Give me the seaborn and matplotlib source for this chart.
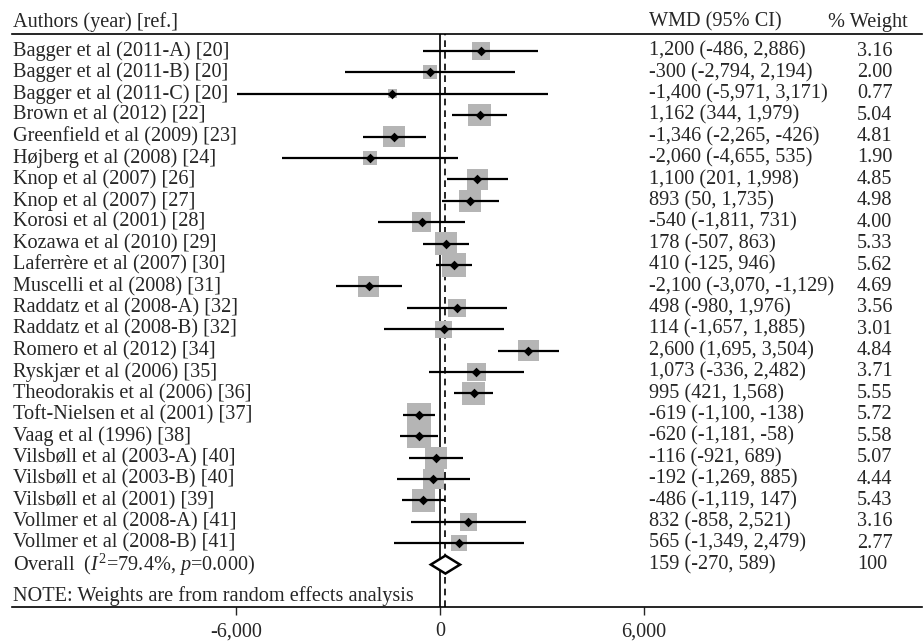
import seaborn as sns
import matplotlib.pyplot as plt
import matplotlib.transforms as mtransforms
import pandas as pd

# study rows, top to bottom
studies = ["Bagger et al (2011-A) [20]", "Bagger et al (2011-B) [20]", "Bagger et al (2011-C) [20]",
           "Brown et al (2012) [22]", "Greenfield et al (2009) [23]", "Højberg et al (2008) [24]",
           "Knop et al (2007) [26]", "Knop et al (2007) [27]", "Korosi et al (2001) [28]",
           "Kozawa et al (2010) [29]", "Laferrère et al (2007) [30]", "Muscelli et al (2008) [31]",
           "Raddatz et al (2008-A) [32]", "Raddatz et al (2008-B) [32]", "Romero et al (2012) [34]",
           "Ryskjær et al (2006) [35]", "Theodorakis et al (2006) [36]", "Toft-Nielsen et al (2001) [37]",
           "Vaag et al (1996) [38]", "Vilsbøll et al (2003-A) [40]", "Vilsbøll et al (2003-B) [40]",
           "Vilsbøll et al (2001) [39]", "Vollmer et al (2008-A) [41]", "Vollmer et al (2008-B) [41]"]
wmd = [1200, -300, -1400, 1162, -1346, -2060, 1100, 893, -540, 178, 410, -2100,
       498, 114, 2600, 1073, 995, -619, -620, -116, -192, -486, 832, 565]
lo = [-486, -2794, -5971, 344, -2265, -4655, 201, 50, -1811, -507, -125, -3070,
      -980, -1657, 1695, -336, 421, -1100, -1181, -921, -1269, -1119, -858, -1349]
hi = [2886, 2194, 3171, 1979, -426, 535, 1998, 1735, 731, 863, 946, -1129,
      1976, 1885, 3504, 2482, 1568, -138, -58, 689, 885, 147, 2521, 2479]
weight = [3.16, 2.00, 0.77, 5.04, 4.81, 1.90, 4.85, 4.98, 4.00, 5.33, 5.62, 4.69,
          3.56, 3.01, 4.84, 3.71, 5.55, 5.72, 5.58, 5.07, 4.44, 5.43, 3.16, 2.77]
overall = (159, -270, 589)
overall_label = r"Overall  ($\it{I}^{2}$=79.4%, $\it{p}$=0.000)"
xticks = [-6000, 0, 6000]
xticklabels = ["-6,000", "0", "6,000"]

df = pd.DataFrame({"study": studies, "wmd": wmd, "lo": lo, "hi": hi, "weight": weight})
df["row"] = range(len(df))
n = len(df)

sns.set_style("white")
plt.rcParams["font.family"] = ["Liberation Serif", "DejaVu Serif"]
plt.rcParams["mathtext.fontset"] = "custom"
plt.rcParams["mathtext.rm"] = "Liberation Serif"
plt.rcParams["mathtext.it"] = "Liberation Serif:italic"
fs = 14.6

W, H = 923, 641
fig = plt.figure(figsize=(W / 100, H / 100), dpi=100)
ax = fig.add_axes([12 / W, (H - 607) / H, 910 / W, (607 - 34) / H])

# pixel layout: 0 at x=440, 204 px per 6000; rows at 51 + 21.4*i
ppu = 204 / 6000
ax.set_xlim((12 - 440) / ppu, (922 - 440) / ppu)
ax.set_ylim((607 - 51) / 21.4, (34 - 51) / 21.4)

sns.scatterplot(data=df, x="wmd", y="row", size="weight", sizes=(50 * 0.77, 50 * 5.72),
                size_norm=(0.77, 5.72), marker="s", color="#b5b5b5", linewidth=0,
                legend=False, ax=ax, zorder=1)
ax.hlines(df["row"], df["lo"], df["hi"], color="black", lw=1.6, zorder=2)
sns.scatterplot(data=df, x="wmd", y="row", marker="D", s=24, color="black",
                linewidth=0, legend=False, ax=ax, zorder=3)

# overall diamond
ov, olo, ohi = overall
half = 0.42
ax.fill([olo, ov, ohi, ov], [n, n - half, n, n + half], facecolor="white",
        edgecolor="black", lw=1.8, zorder=3)

ax.axvline(0, color="black", lw=1.2, zorder=0)
ax.axvline(ov, color="black", lw=1.2, ls=(0, (4, 3)), zorder=0)

for s in ["left", "right"]:
    ax.spines[s].set_visible(False)
for s in ["top", "bottom"]:
    ax.spines[s].set_color("black")
    ax.spines[s].set_linewidth(1.2)
ax.set_yticks([])
ax.set_xticks(xticks)
ax.set_xticklabels(xticklabels, fontsize=fs)
ax.tick_params(axis="x", direction="out", length=6, width=1, pad=5, bottom=True)
ax.set_xlabel("")
ax.set_ylabel("")

tr = mtransforms.blended_transform_factory(fig.transFigure, ax.transData)
for i, r in df.iterrows():
    ax.text(13 / W, r["row"], r["study"], transform=tr, fontsize=fs, va="center", ha="left")
    ax.text(649 / W, r["row"], f"{r['wmd']:,} ({r['lo']:,}, {r['hi']:,})", transform=tr,
            fontsize=fs, va="center", ha="left")
    ax.text(857 / W, r["row"], f"{r['weight']:.2f}", transform=tr, fontsize=fs,
            va="center", ha="left")

ax.text(13 / W, n, overall_label, transform=tr, fontsize=fs, va="center", ha="left")
ax.text(649 / W, n, f"{ov:,} ({olo:,}, {ohi:,})", transform=tr, fontsize=fs, va="center", ha="left")
ax.text(857 / W, n, "100", transform=tr, fontsize=fs, va="center", ha="left")

hy = (22 - 51) / 21.4
ax.text(13 / W, hy, "Authors (year) [ref.]", transform=tr, fontsize=fs, va="center", ha="left", clip_on=False)
ax.text(649 / W, hy, "WMD (95% CI)", transform=tr, fontsize=fs, va="center", ha="left", clip_on=False)
ax.text(828 / W, hy, "% Weight", transform=tr, fontsize=fs, va="center", ha="left", clip_on=False)

ax.text(13 / W, (596 - 51) / 21.4, "NOTE: Weights are from random effects analysis",
        transform=tr, fontsize=fs, va="center", ha="left")

fig.savefig("out.png", dpi=100)
